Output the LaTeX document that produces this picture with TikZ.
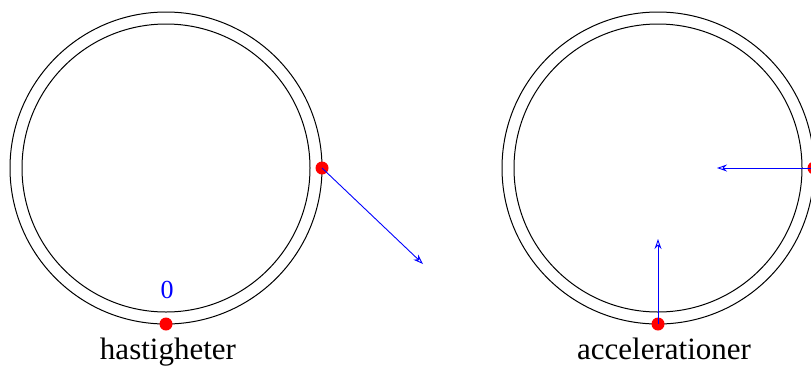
\documentclass[tikz,border=0pt]{standalone}
\usepackage{fontspec}
\setmainfont{Liberation Serif}
\usetikzlibrary{arrows.meta}
\begin{document}
\begin{tikzpicture}[x=1pt,y=-1pt,
  ring/.style={draw=black,line width=1pt},
  dot/.style={circle,fill=red,inner sep=0pt,minimum size=13pt},
  vec/.style={draw=blue,line width=0.9pt,-{Stealth[open,length=10pt,width=7pt]}},
  lbl/.style={font=\fontsize{31}{36}\selectfont,anchor=base},
  zero/.style={font=\fontsize{26}{30}\selectfont,text=blue,anchor=base}]
\useasboundingbox (0,0) rectangle (811,368);
\clip (0,0) rectangle (811,368);
% left
\coordinate (cl) at (166,168);
\draw[ring] (cl) circle[radius=156];
\draw[ring] (cl) circle[radius=144];
\node[dot] (vr) at (322,168) {};
\node[dot] (vb) at (166,324) {};
\coordinate (vend) at (423,264);
\draw[vec] (vr.center) -- (vend);
\node[zero] (z) at (167,298) {0};
\node[lbl] (h) at (168,359) {hastigheter};
% right
\coordinate (cr) at (658,168);
\draw[ring] (cr) circle[radius=156];
\draw[ring] (cr) circle[radius=144];
\node[dot] (ar) at (814,168) {};
\node[dot] (ab) at (658,324) {};
\coordinate (aend1) at (717,168);
\coordinate (aend2) at (658,239);
\draw[vec] (ar.center) -- (aend1);
\draw[vec] (ab.center) -- (aend2);
\node[lbl] (a) at (664,359) {accelerationer};
\end{tikzpicture}
\end{document}
